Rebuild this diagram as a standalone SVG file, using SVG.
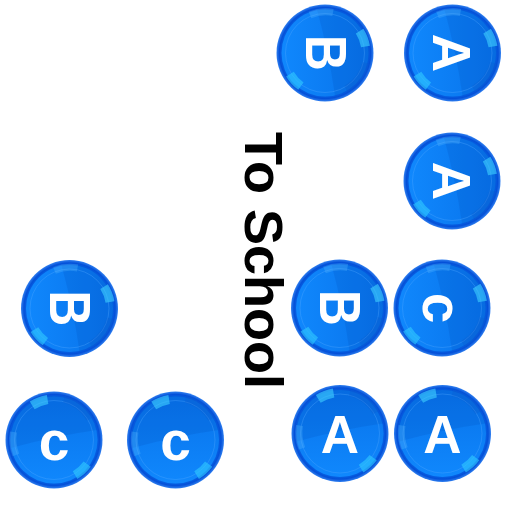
<svg xmlns="http://www.w3.org/2000/svg" xmlns:xlink="http://www.w3.org/1999/xlink" width="512" height="512" viewBox="0 0 512 512">
<style>
.lt{font-family:"Liberation Sans",Arial,sans-serif;font-weight:bold;fill:#ffffff;text-anchor:middle}
.la{font-size:53px}
.lb{font-size:57px}
.lc{font-size:55px}
.title{font-family:"Liberation Sans",Arial,sans-serif;font-weight:bold;font-size:54px;fill:#000000}
</style>
<defs>
<radialGradient id="rim" cx="0" cy="0" r="48.5" gradientUnits="userSpaceOnUse">
<stop offset="0.82" stop-color="#0a7af4"/>
<stop offset="0.94" stop-color="#0450d8"/>
<stop offset="1" stop-color="#3080f0"/>
</radialGradient>
<linearGradient id="body" x1="0" y1="-44" x2="0" y2="44" gradientUnits="userSpaceOnUse">
<stop offset="0" stop-color="#0872ea"/>
<stop offset="1" stop-color="#1088fd"/>
</linearGradient>
<g id="ball">
<circle r="48.5" fill="url(#rim)"/>
<circle r="43.5" fill="url(#body)"/>
<path d="M-43.27,8 Q0,-4 42.85,-10 A44,44 0 0 0 -43.27,8Z" fill="#0050c0" opacity="0.2"/>
<circle r="39.5" fill="none" stroke="#52aaff" stroke-width="1" opacity="0.35"/>
<path d="M-21.8,-34.6 A41,41 0 0 1 -6.4,-40.5" fill="none" stroke="#40d0ff" stroke-width="9" opacity="0.6"/>
<path d="M33.2,24.1 A41,41 0 0 1 21.1,35.1" fill="none" stroke="#30ccff" stroke-width="9" opacity="0.6"/>
<path d="M-40.5,-8 A41,41 0 0 0 -38,15" fill="none" stroke="#5ab8ff" stroke-width="7" opacity="0.3"/>
<path d="M10,-41 A42,42 0 0 1 36,-21" fill="none" stroke="#0c5ccc" stroke-width="7" opacity="0.3"/>
</g>
</defs>
<g id="title">
<text class="title" transform="translate(245,132) rotate(90)" x="0" y="0">To School</text>
</g>
<g id="ball-b-top" transform="translate(325,53) rotate(90)">
<use xlink:href="#ball" href="#ball"/>
<text class="lt lb" transform="scale(0.87,1)" x="0" y="19">B</text>
</g>
<g id="ball-a-top" transform="translate(452.5,53) rotate(90)">
<use xlink:href="#ball" href="#ball"/>
<text class="lt la" x="0" y="19.5">A</text>
</g>
<g id="ball-a-mid" transform="translate(452,181) rotate(90)">
<use xlink:href="#ball" href="#ball"/>
<text class="lt la" x="0" y="19.5">A</text>
</g>
<g id="ball-b-right" transform="translate(339.5,308) rotate(90)">
<use xlink:href="#ball" href="#ball"/>
<text class="lt lb" transform="scale(0.87,1)" x="0" y="19">B</text>
</g>
<g id="ball-c-right" transform="translate(442,308) rotate(90)">
<use xlink:href="#ball" href="#ball"/>
<text class="lt lc" x="0" y="19">c</text>
</g>
<g id="ball-b-left" transform="translate(69.5,308.5) rotate(90)">
<use xlink:href="#ball" href="#ball"/>
<text class="lt lb" transform="scale(0.87,1)" x="0" y="19">B</text>
</g>
<g id="ball-c-left" transform="translate(54,440)">
<use xlink:href="#ball" href="#ball"/>
<text class="lt lc" x="0" y="19.5">c</text>
</g>
<g id="ball-c-mid" transform="translate(175.5,440)">
<use xlink:href="#ball" href="#ball"/>
<text class="lt lc" x="0" y="19.5">c</text>
</g>
<g id="ball-a-bottom" transform="translate(340,433.5)">
<use xlink:href="#ball" href="#ball"/>
<text class="lt la" x="0" y="19.5">A</text>
</g>
<g id="ball-a-bottom-right" transform="translate(442.5,433.5)">
<use xlink:href="#ball" href="#ball"/>
<text class="lt la" x="0" y="19.5">A</text>
</g>
<g id="connectors"/>
</svg>
